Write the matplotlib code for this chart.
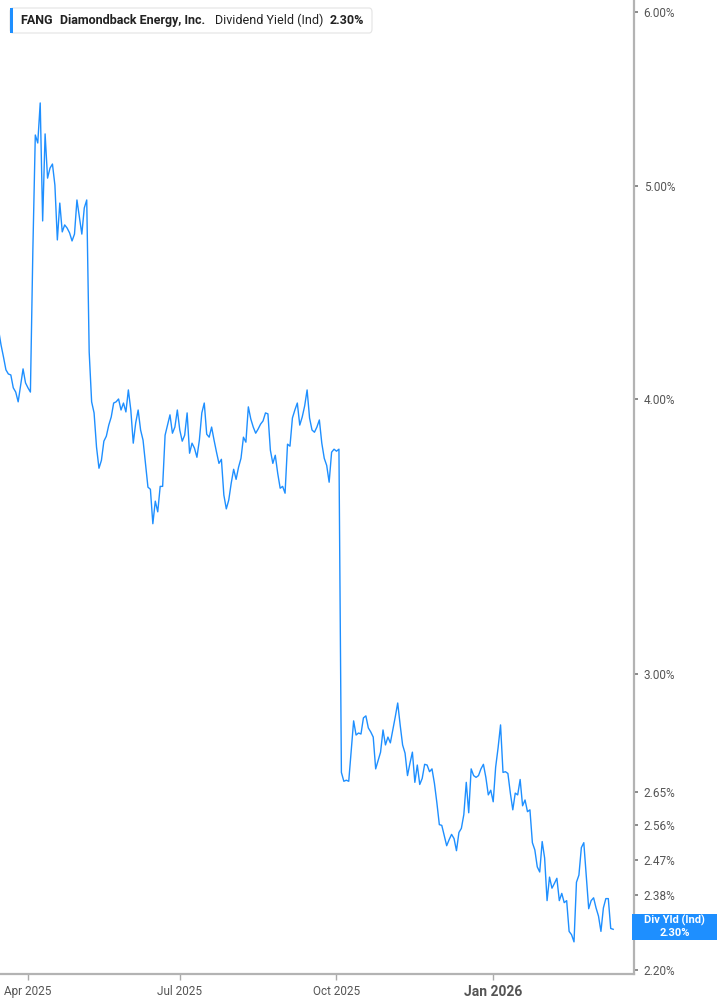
import numpy as np
import pandas as pd
import matplotlib
matplotlib.use("Agg")
import matplotlib.pyplot as plt
from matplotlib.patches import FancyBboxPatch, Rectangle
from matplotlib.ticker import FixedLocator, FixedFormatter, NullLocator

plt.rcParams['font.family'] = ['Roboto', 'DejaVu Sans']

# trading days (NYSE closed on these)
start_date = "2025-03-14"
market_holidays = ["2025-04-18", "2025-05-26", "2025-06-19", "2025-07-04",
                   "2025-09-01", "2025-11-27", "2025-12-25", "2026-01-01",
                   "2026-01-19", "2026-02-16"]

# FANG dividend yield (indicated), %
div_yield = [
    4.301, 4.234, 4.181, 4.125, 4.107, 4.103, 4.048, 4.030, 3.989, 4.060,
    4.129, 4.069, 4.048, 4.030, 4.677, 5.275, 5.231, 5.455, 4.821, 5.281,
    5.042, 5.095, 5.117, 5.005, 4.726, 4.912, 4.766, 4.801, 4.785, 4.761,
    4.721, 4.755, 4.928, 4.841, 4.755, 4.887, 4.928, 4.203, 3.989, 3.943,
    3.804, 3.721, 3.752, 3.828, 3.848, 3.893, 3.926, 3.984, 3.989, 4.001,
    3.955, 3.984, 3.947, 4.039, 3.955, 3.820, 3.902, 3.955, 3.873, 3.832,
    3.740, 3.648, 3.640, 3.511, 3.595, 3.555, 3.651, 3.651, 3.852, 3.893,
    3.935, 3.860, 3.885, 3.955, 3.873, 3.828, 3.852, 3.943, 3.780, 3.820,
    3.800, 3.764, 3.832, 3.943, 3.984, 3.856, 3.844, 3.885, 3.832, 3.784,
    3.740, 3.756, 3.618, 3.566, 3.599, 3.663, 3.717, 3.678, 3.725, 3.760,
    3.844, 3.824, 3.968, 3.918, 3.885, 3.860, 3.877, 3.897, 3.910, 3.943,
    3.939, 3.792, 3.740, 3.772, 3.701, 3.644, 3.651, 3.625, 3.816, 3.808,
    3.922, 3.955, 3.984, 3.893, 3.926, 3.972, 4.039, 3.922, 3.873, 3.864,
    3.885, 3.914, 3.820, 3.760, 3.732, 3.667, 3.784, 3.796, 3.788, 3.796,
    2.706, 2.681, 2.684, 2.681, 2.769, 2.856, 2.814, 2.820, 2.817, 2.865,
    2.871, 2.835, 2.823, 2.808, 2.716, 2.740, 2.764, 2.829, 2.785, 2.808,
    2.791, 2.829, 2.868, 2.910, 2.844, 2.785, 2.761, 2.697, 2.732, 2.764,
    2.678, 2.727, 2.672, 2.689, 2.729, 2.727, 2.708, 2.716, 2.675, 2.621,
    2.562, 2.560, 2.533, 2.506, 2.522, 2.536, 2.525, 2.493, 2.541, 2.552,
    2.589, 2.678, 2.594, 2.716, 2.697, 2.692, 2.697, 2.716, 2.729, 2.692,
    2.643, 2.656, 2.624, 2.721, 2.777, 2.844, 2.706, 2.708, 2.703, 2.648,
    2.602, 2.648, 2.643, 2.686, 2.613, 2.629, 2.597, 2.602, 2.514, 2.495,
    2.451, 2.438, 2.517, 2.474, 2.366, 2.425, 2.397, 2.409, 2.422, 2.366,
    2.384, 2.361, 2.366, 2.291, 2.283, 2.266, 2.412, 2.430, 2.501, 2.514,
    2.430, 2.346, 2.366, 2.373, 2.348, 2.328, 2.291, 2.348, 2.371, 2.371,
    2.298, 2.296,
]

y_ticks = [2.20, 2.29, 2.38, 2.47, 2.56, 2.65, 3.00, 4.00, 5.00, 6.00]
month_ticks = ["2025-04-01", "2025-07-01", "2025-10-01", "2026-01-01"]
month_labels = ["Apr 2025", "Jul 2025", "Oct 2025", "Jan 2026"]

bday = pd.offsets.CustomBusinessDay(holidays=market_holidays)
dates = pd.date_range(start_date, periods=len(div_yield), freq=bday)
idx = np.arange(len(dates))
tick_pos = [dates.searchsorted(pd.Timestamp(d)) for d in month_ticks]

W, H = 717, 1005
fig = plt.figure(figsize=(W / 100, H / 100), dpi=100)
ax = fig.add_axes([0, 1 - 974 / H, 634 / W, 974 / H])

line_col = '#1E8FFF'
ax.plot(idx, div_yield, color=line_col, lw=1.0)

ax.set_yscale('log')
ax.set_ylim(2.191, 6.076)
ax.set_xlim(0.58, 259.5)

# the 2.29% label sits under the value tag, so only its tick is shown
ytick_labels = ['%.2f%%' % v for v in y_ticks]
ytick_labels[1] = ''

ax.yaxis.tick_right()
ax.yaxis.set_major_locator(FixedLocator(y_ticks))
ax.yaxis.set_major_formatter(FixedFormatter(ytick_labels))
ax.yaxis.set_minor_locator(NullLocator())
ax.xaxis.set_major_locator(FixedLocator(tick_pos))
ax.xaxis.set_major_formatter(FixedFormatter(month_labels))
ax.xaxis.set_minor_locator(NullLocator())

for s in ['top', 'left']:
    ax.spines[s].set_visible(False)
for s in ['right', 'bottom']:
    ax.spines[s].set_color('#b3b3b3')
    ax.spines[s].set_linewidth(1.6)

ax.tick_params(axis='y', which='major', direction='out', length=3, width=1.2,
               color='#777777', labelcolor='#555555', labelsize=8.5, pad=4)
ax.tick_params(axis='x', which='major', direction='out', length=4, width=1,
               color='#aaaaaa', labelcolor='#555555', labelsize=8.5, pad=4)
jan = ax.get_xticklabels()[3]
jan.set_fontweight('bold')
jan.set_fontsize(10)

# current value tag on the right axis
tag = Rectangle((632 / W, 1 - 940 / H), 85 / W, 26 / H, transform=fig.transFigure,
                facecolor=line_col, edgecolor='none', zorder=5)
fig.add_artist(tag)
fig.text(674.5 / W, 1 - 920.5 / H, "Div Yld (Ind)", color='white', fontsize=8,
         fontweight='bold', ha='center', va='center', zorder=6)
fig.text(674.5 / W, 1 - 933 / H, "%.2f%%" % div_yield[-1], color='white', fontsize=8,
         fontweight='bold', ha='center', va='center', zorder=6)

# legend box, top left
box = FancyBboxPatch((10 / W, 1 - 33 / H), 362 / W, 25 / H, transform=fig.transFigure,
                     boxstyle='round,pad=0,rounding_size=0.004', facecolor='white',
                     edgecolor='#e3e3e3', lw=0.8, zorder=5)
fig.add_artist(box)
bar = Rectangle((10 / W, 1 - 33 / H), 3 / W, 25 / H, transform=fig.transFigure,
                facecolor=line_col, edgecolor='none', zorder=6)
fig.add_artist(bar)
ty = 1 - 20.5 / H
fig.text(20 / W, ty, "FANG", fontsize=9, fontweight='bold', color='#222222', va='center', zorder=7)
fig.text(60 / W, ty, "Diamondback Energy, Inc.", fontsize=9, fontweight='bold', color='#222222',
         va='center', zorder=7)
fig.text(215 / W, ty, "Dividend Yield (Ind)", fontsize=9, color='#222222', va='center', zorder=7)
fig.text(330 / W, ty, "%.2f%%" % div_yield[-1], fontsize=9, fontweight='bold', color='#222222',
         va='center', zorder=7)

fig.savefig("out.png", dpi=100)
